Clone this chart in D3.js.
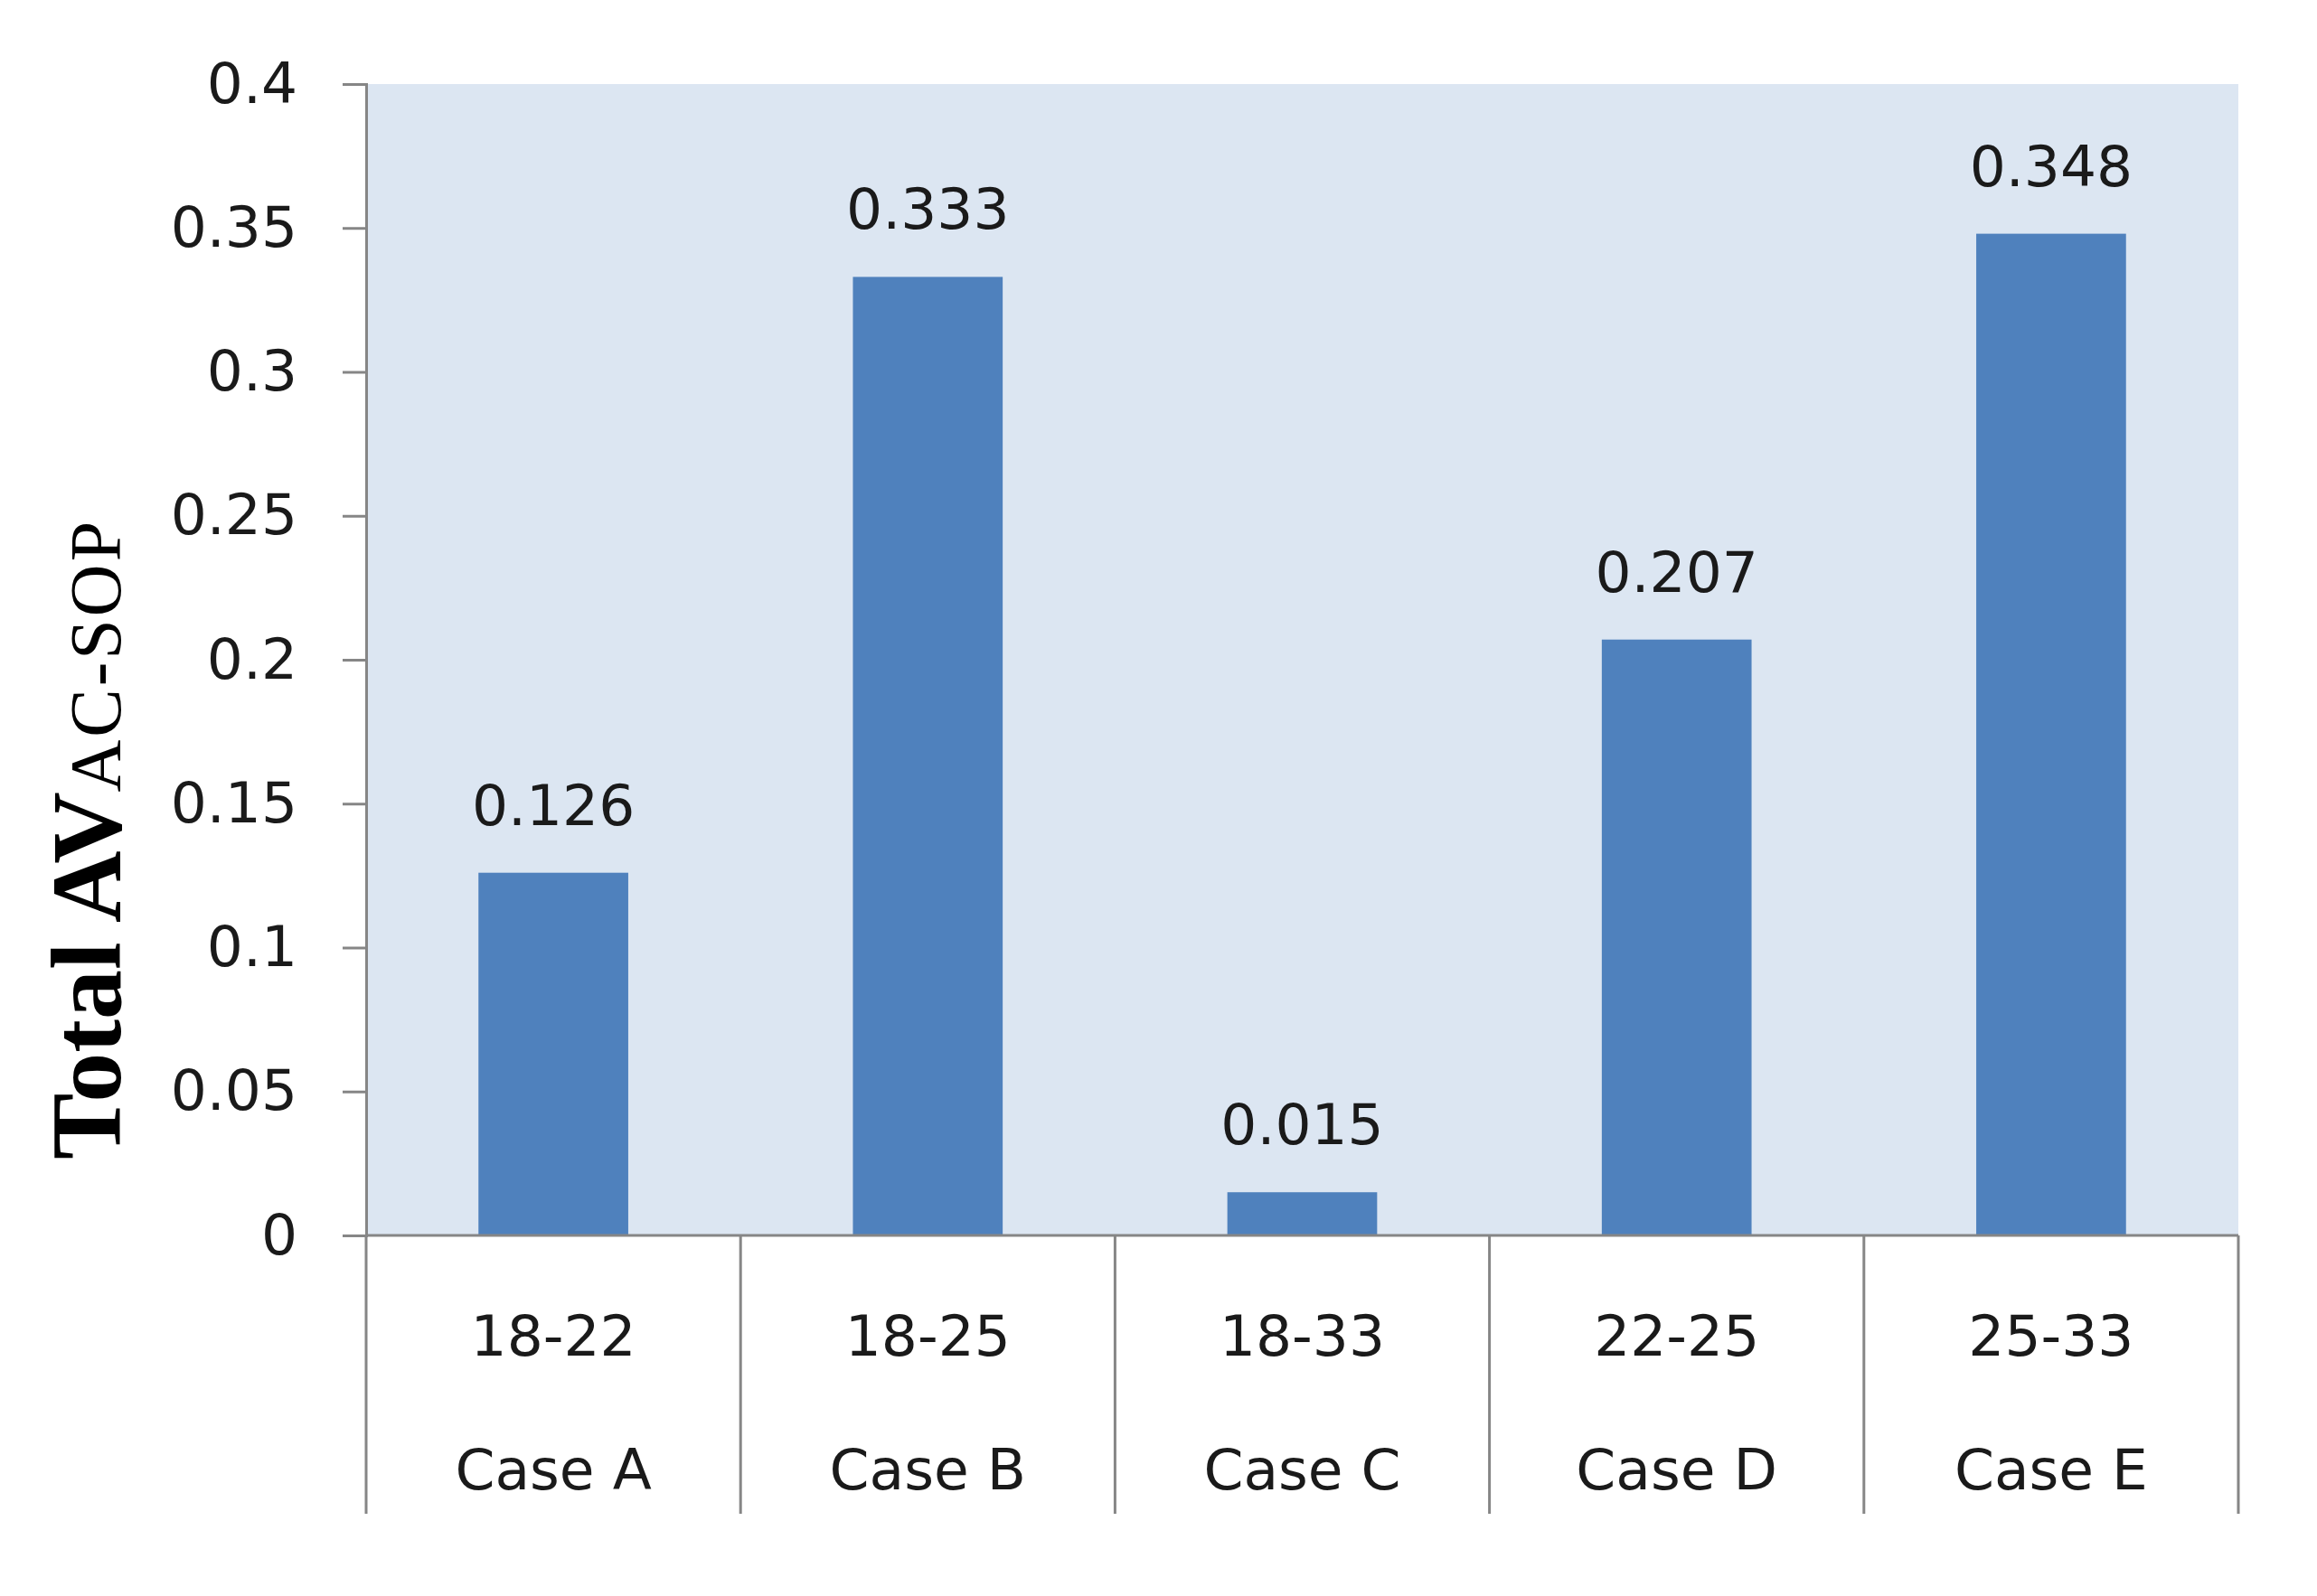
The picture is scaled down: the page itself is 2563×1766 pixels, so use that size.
<!DOCTYPE html>
<html>
<head>
<meta charset="utf-8">
<script src="https://cdn.jsdelivr.net/npm/d3@7"></script>
<style>
  html, body { margin: 0; padding: 0; background: #ffffff; }
  svg { display: block; }
</style>
</head>
<body>
<script>
const ranges = ["18-22", "18-25", "18-33", "22-25", "25-33"];
const cases = ["Case A", "Case B", "Case C", "Case D", "Case E"];
const values = [0.126, 0.333, 0.015, 0.207, 0.348];
const valueLabels = ["0.126", "0.333", "0.015", "0.207", "0.348"];
const yTicks = [0, 0.05, 0.1, 0.15, 0.2, 0.25, 0.3, 0.35, 0.4];
const yTickLabels = ["0", "0.05", "0.1", "0.15", "0.2", "0.25", "0.3", "0.35", "0.4"];

(function () {
const W = 2563, H = 1766;
const pLeft = 405, pRight = 2476, pTop = 93, pBottom = 1367;
const font = "'DejaVu Sans', Verdana, sans-serif";
const axisColor = "#868686";

const svg = d3.select("body").append("svg").attr("width", W).attr("height", H);

const x = d3.scaleBand().domain(cases).range([pLeft, pRight]).paddingInner(0.6).paddingOuter(0.3);
const xb = d3.scaleBand().domain(cases).range([pLeft, pRight]).padding(0);
const y = d3.scaleLinear().domain([0, 0.4]).range([pBottom, pTop]);

// plot background
svg.append("rect").attr("x", pLeft).attr("y", pTop)
  .attr("width", pRight - pLeft).attr("height", pBottom - pTop)
  .attr("fill", "#DCE6F2");

// bars
svg.selectAll("rect.bar").data(values).enter().append("rect")
  .attr("class", "bar")
  .attr("x", (d, i) => x(cases[i]))
  .attr("width", x.bandwidth())
  .attr("y", d => y(d))
  .attr("height", d => y(0) - y(d))
  .attr("fill", "#4F81BD");

// value labels
svg.selectAll("text.val").data(values).enter().append("text")
  .attr("class", "val")
  .attr("x", (d, i) => x(cases[i]) + x.bandwidth() / 2)
  .attr("y", d => y(d) - 53)
  .attr("text-anchor", "middle")
  .attr("font-family", font).attr("font-size", 63).attr("fill", "#1a1a1a")
  .text((d, i) => valueLabels[i]);

// y axis
const yAxis = d3.axisLeft(y).tickValues(yTicks)
  .tickFormat((d, i) => yTickLabels[i]).tickSize(26).tickPadding(50);
const gy = svg.append("g").attr("transform", `translate(${pLeft},0)`).call(yAxis);
gy.select(".domain").attr("stroke", axisColor).attr("stroke-width", 3);
gy.selectAll(".tick line").attr("stroke", axisColor).attr("stroke-width", 3);
gy.selectAll(".tick text").attr("font-family", font).attr("font-size", 63).attr("fill", "#1a1a1a");

// x axis baseline
svg.append("line").attr("x1", pLeft).attr("x2", pRight).attr("y1", y(0)).attr("y2", y(0))
  .attr("stroke", axisColor).attr("stroke-width", 3);

// category dividers (including both ends)
const bounds = cases.map(c => xb(c)).concat([pRight]);
svg.selectAll("line.div").data(bounds).enter().append("line")
  .attr("class", "div")
  .attr("x1", d => d).attr("x2", d => d)
  .attr("y1", y(0)).attr("y2", 1675)
  .attr("stroke", axisColor).attr("stroke-width", 3);

// two-level category labels
svg.selectAll("text.rng").data(ranges).enter().append("text")
  .attr("class", "rng")
  .attr("x", (d, i) => xb(cases[i]) + xb.bandwidth() / 2)
  .attr("y", 1500)
  .attr("text-anchor", "middle")
  .attr("font-family", font).attr("font-size", 63).attr("fill", "#1a1a1a")
  .text(d => d);

svg.selectAll("text.case").data(cases).enter().append("text")
  .attr("class", "case")
  .attr("x", d => xb(d) + xb.bandwidth() / 2)
  .attr("y", 1648)
  .attr("text-anchor", "middle")
  .attr("font-family", font).attr("font-size", 63).attr("fill", "#1a1a1a")
  .text(d => d);

// y axis title
const title = svg.append("text")
  .attr("transform", "translate(133,1283) rotate(-90)")
  .attr("font-family", "'Liberation Serif', 'Times New Roman', serif")
  .attr("fill", "#000");
title.append("tspan").attr("font-weight", "bold").attr("font-size", 110).text("Total AV");
title.append("tspan").attr("font-weight", "normal").attr("font-size", 80)
  .attr("letter-spacing", 3).text("AC-SOP");
})();
</script>
</body>
</html>
